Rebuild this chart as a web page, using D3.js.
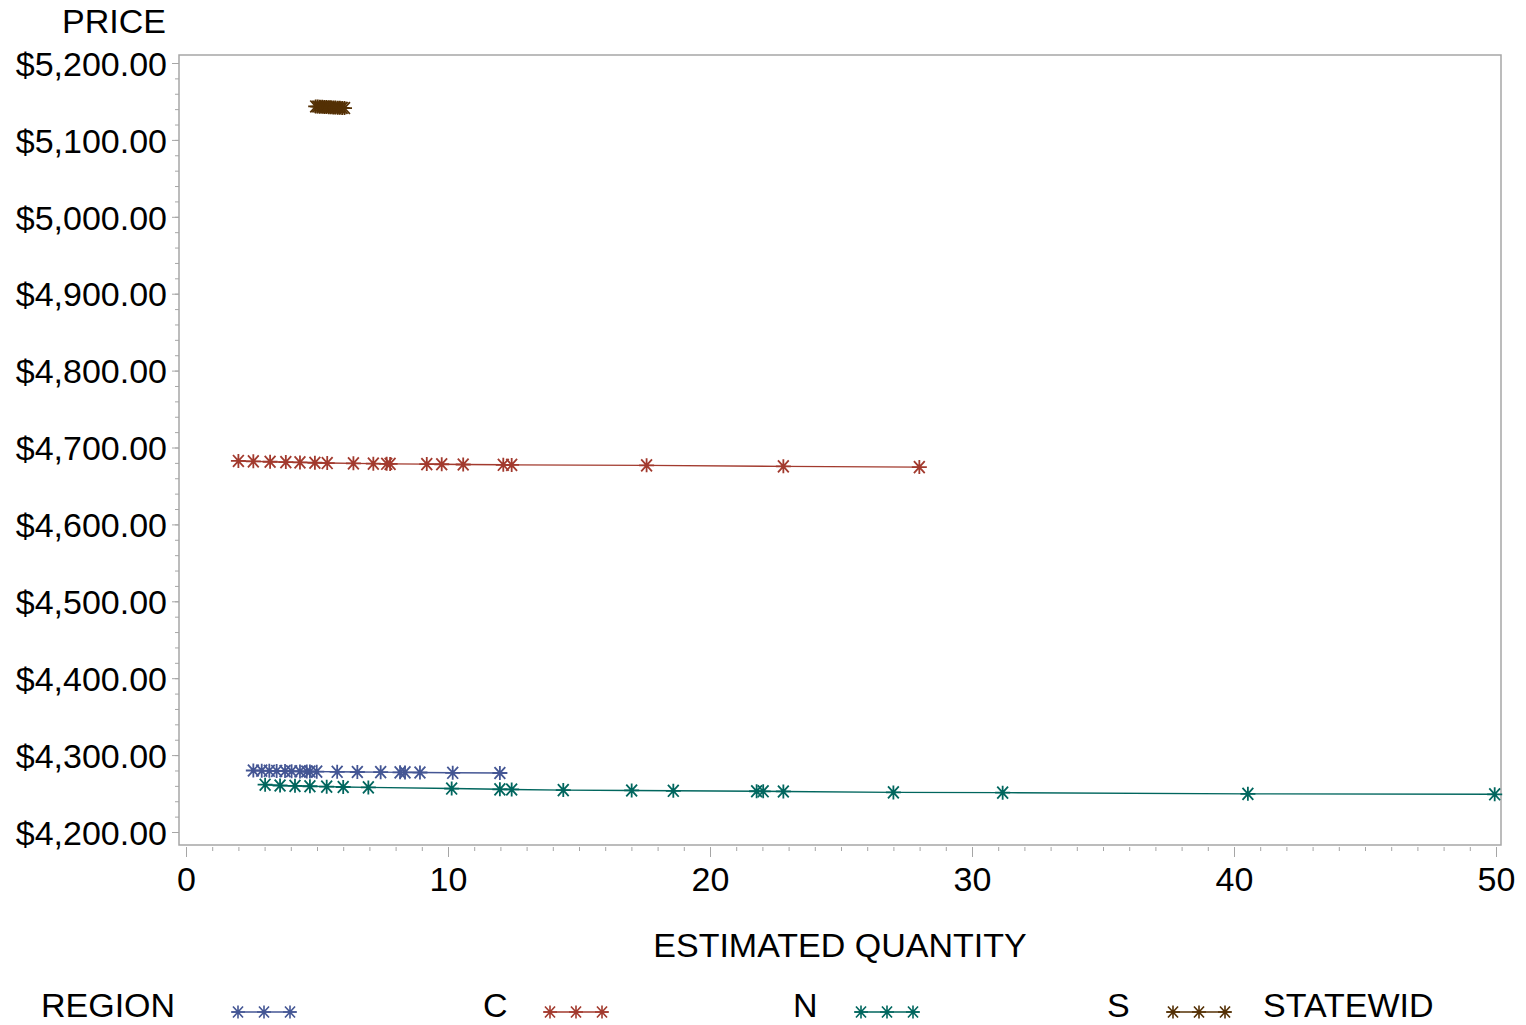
<!DOCTYPE html>
<html>
<head>
<meta charset="utf-8">
<script src="https://cdn.jsdelivr.net/npm/d3@7/dist/d3.min.js"></script>
<style>
  html, body { margin: 0; padding: 0; background: #fff; }
  svg text { font-family: "Liberation Sans", Arial, sans-serif; fill: #000; }
</style>
</head>
<body>
<svg id="chart" width="1526" height="1025"></svg>
<script>
// ---------- data ----------
const regionNames = ["C", "N", "S", "STATEWID"];
const regionColors = ["#445694", "#A23A2E", "#01665E", "#543005"];

const qtyC = [2.57, 2.89, 3.18, 3.46, 3.78, 4.03, 4.35, 4.61, 4.73, 4.99, 5.77, 6.54, 7.43, 8.17, 8.36, 8.93, 10.18, 11.98];
const priceC = [4280.0, 4279.8, 4279.6, 4279.4, 4279.2, 4279.0, 4278.8, 4278.7, 4278.6, 4278.5, 4278.3, 4278.0, 4277.8, 4277.6, 4277.5, 4277.4, 4277.0, 4276.7];

const qtyN = [2.0, 2.57, 3.21, 3.81, 4.35, 4.92, 5.39, 6.39, 7.15, 7.66, 7.79, 9.19, 9.76, 10.58, 12.11, 12.43, 17.58, 22.8, 27.99];
const priceN = [4682.5, 4682.0, 4681.5, 4681.0, 4680.6, 4680.2, 4679.8, 4679.4, 4679.0, 4678.8, 4678.7, 4678.4, 4678.2, 4677.9, 4677.5, 4677.4, 4676.8, 4675.5, 4674.5];

const qtyS = [3.02, 3.59, 4.16, 4.73, 5.37, 6.0, 6.96, 10.14, 11.98, 12.43, 14.4, 17.01, 18.6, 21.78, 22.03, 22.8, 27.0, 31.17, 40.53, 49.95];
const priceS = [4261.5, 4260.5, 4260.0, 4259.5, 4259.0, 4258.5, 4258.0, 4256.5, 4255.5, 4255.3, 4254.5, 4254.0, 4253.6, 4253.0, 4252.9, 4252.7, 4251.5, 4251.2, 4249.6, 4249.0];

const qtySW = [4.95, 5.03, 5.11, 5.2, 5.28, 5.36, 5.45, 5.53, 5.62, 5.7, 5.79, 5.87, 5.96, 6.05];
const priceSW = [5143.5, 5143.4, 5143.2, 5143.0, 5142.9, 5142.7, 5142.5, 5142.4, 5142.2, 5142.0, 5141.9, 5141.7, 5141.6, 5141.4];

const xTicks = [0, 10, 20, 30, 40, 50];
const yTicks = [4200, 4300, 4400, 4500, 4600, 4700, 4800, 4900, 5000, 5100, 5200];
const yTitle = "PRICE";
const xTitle = "ESTIMATED QUANTITY";
const legendTitle = "REGION";

// ---------- layout ----------
const svg = d3.select("#chart");
const frame = { left: 179, top: 55, right: 1501, bottom: 845 };
const x = d3.scaleLinear().domain([0, 50]).range([186, 1496]);
const y = d3.scaleLinear().domain([4200, 5200]).range([832, 63]);
const FS = 34;
const gridColor = "#A6A6A6";

// frame
svg.append("rect")
  .attr("x", frame.left).attr("y", frame.top)
  .attr("width", frame.right - frame.left).attr("height", frame.bottom - frame.top)
  .attr("fill", "none").attr("stroke", gridColor).attr("stroke-width", 1.5);

// y axis minor
const yMinor = d3.range(4200, 5201, 20);
svg.append("g").attr("transform", `translate(${frame.left},0)`)
  .call(d3.axisLeft(y).tickValues(yMinor).tickSize(4).tickFormat(""))
  .call(g => g.select(".domain").remove())
  .call(g => g.selectAll("line").attr("stroke", gridColor));
// y axis major
svg.append("g").attr("transform", `translate(${frame.left},0)`)
  .call(d3.axisLeft(y).tickValues(yTicks).tickSize(7).tickPadding(5).tickFormat(d3.format("$,.2f")))
  .call(g => g.select(".domain").remove())
  .call(g => g.selectAll("line").attr("stroke", gridColor))
  .call(g => g.selectAll("text").attr("font-size", FS).attr("dy", "0.36em")
      .attr("font-family", "Liberation Sans, Arial, sans-serif").attr("fill", "#000"));

// x axis minor
const xMinor = d3.range(0, 51, 1);
svg.append("g").attr("transform", `translate(0,${frame.bottom + 2})`)
  .call(d3.axisBottom(x).tickValues(xMinor).tickSize(4).tickFormat(""))
  .call(g => g.select(".domain").remove())
  .call(g => g.selectAll("line").attr("stroke", gridColor));
// x axis major
svg.append("g").attr("transform", `translate(0,${frame.bottom + 2})`)
  .call(d3.axisBottom(x).tickValues(xTicks).tickSize(10).tickPadding(0).tickFormat(d3.format("d")))
  .call(g => g.select(".domain").remove())
  .call(g => g.selectAll("line").attr("stroke", gridColor))
  .call(g => g.selectAll("text").attr("font-size", FS).attr("y", 44).attr("dy", 0)
      .attr("font-family", "Liberation Sans, Arial, sans-serif").attr("fill", "#000"));

// titles
svg.append("text").attr("x", 166).attr("y", 33).attr("text-anchor", "end")
  .attr("font-size", FS).text(yTitle);
svg.append("text").attr("x", (frame.left + frame.right) / 2).attr("y", 957).attr("text-anchor", "middle")
  .attr("font-size", FS).text(xTitle);

// star marker
function starPath(hw, hh) {
  const dx = hw * 0.72, dy = hh * 0.85;
  return `M${-hw},0L${hw},0M0,${-hh}L0,${hh}M${-dx},${-dy}L${dx},${dy}M${-dx},${dy}L${dx},${-dy}`;
}

const seriesList = [
  { name: regionNames[0], color: regionColors[0], q: qtyC, p: priceC },
  { name: regionNames[1], color: regionColors[1], q: qtyN, p: priceN },
  { name: regionNames[2], color: regionColors[2], q: qtyS, p: priceS },
  { name: regionNames[3], color: regionColors[3], q: qtySW, p: priceSW }
];

const line = d3.line().x(d => x(d.q)).y(d => y(d.p));

seriesList.forEach(s => {
  const pts = s.q.map((q, i) => ({ q, p: s.p[i] }));
  const g = svg.append("g");
  g.append("path").datum(pts).attr("d", line)
    .attr("fill", "none").attr("stroke", s.color).attr("stroke-width", 1.4);
  g.selectAll("path.m").data(pts).join("path").attr("class", "m")
    .attr("transform", d => `translate(${x(d.q)},${y(d.p)})`)
    .attr("d", starPath(7.5, 7))
    .attr("fill", "none").attr("stroke", s.color).attr("stroke-width", 1.8);
});

// legend
const legY = 1017;
svg.append("text").attr("x", 41).attr("y", legY).attr("font-size", FS).text(legendTitle);
const symStarts = [232, 544, 855, 1167];
const labelStarts = [483, 793, 1107, 1263];
seriesList.forEach((s, i) => {
  const g = svg.append("g").attr("transform", `translate(${symStarts[i]},${legY - 5})`);
  g.append("line").attr("x1", 0).attr("x2", 64).attr("y1", 0).attr("y2", 0)
    .attr("stroke", s.color).attr("stroke-width", 1.4);
  [6, 32, 58].forEach(cx => {
    g.append("path").attr("transform", `translate(${cx},0)`).attr("d", starPath(7, 6.5))
      .attr("fill", "none").attr("stroke", s.color).attr("stroke-width", 1.6);
  });
  svg.append("text").attr("x", labelStarts[i]).attr("y", legY).attr("font-size", FS).text(s.name);
});
</script>
</body>
</html>
